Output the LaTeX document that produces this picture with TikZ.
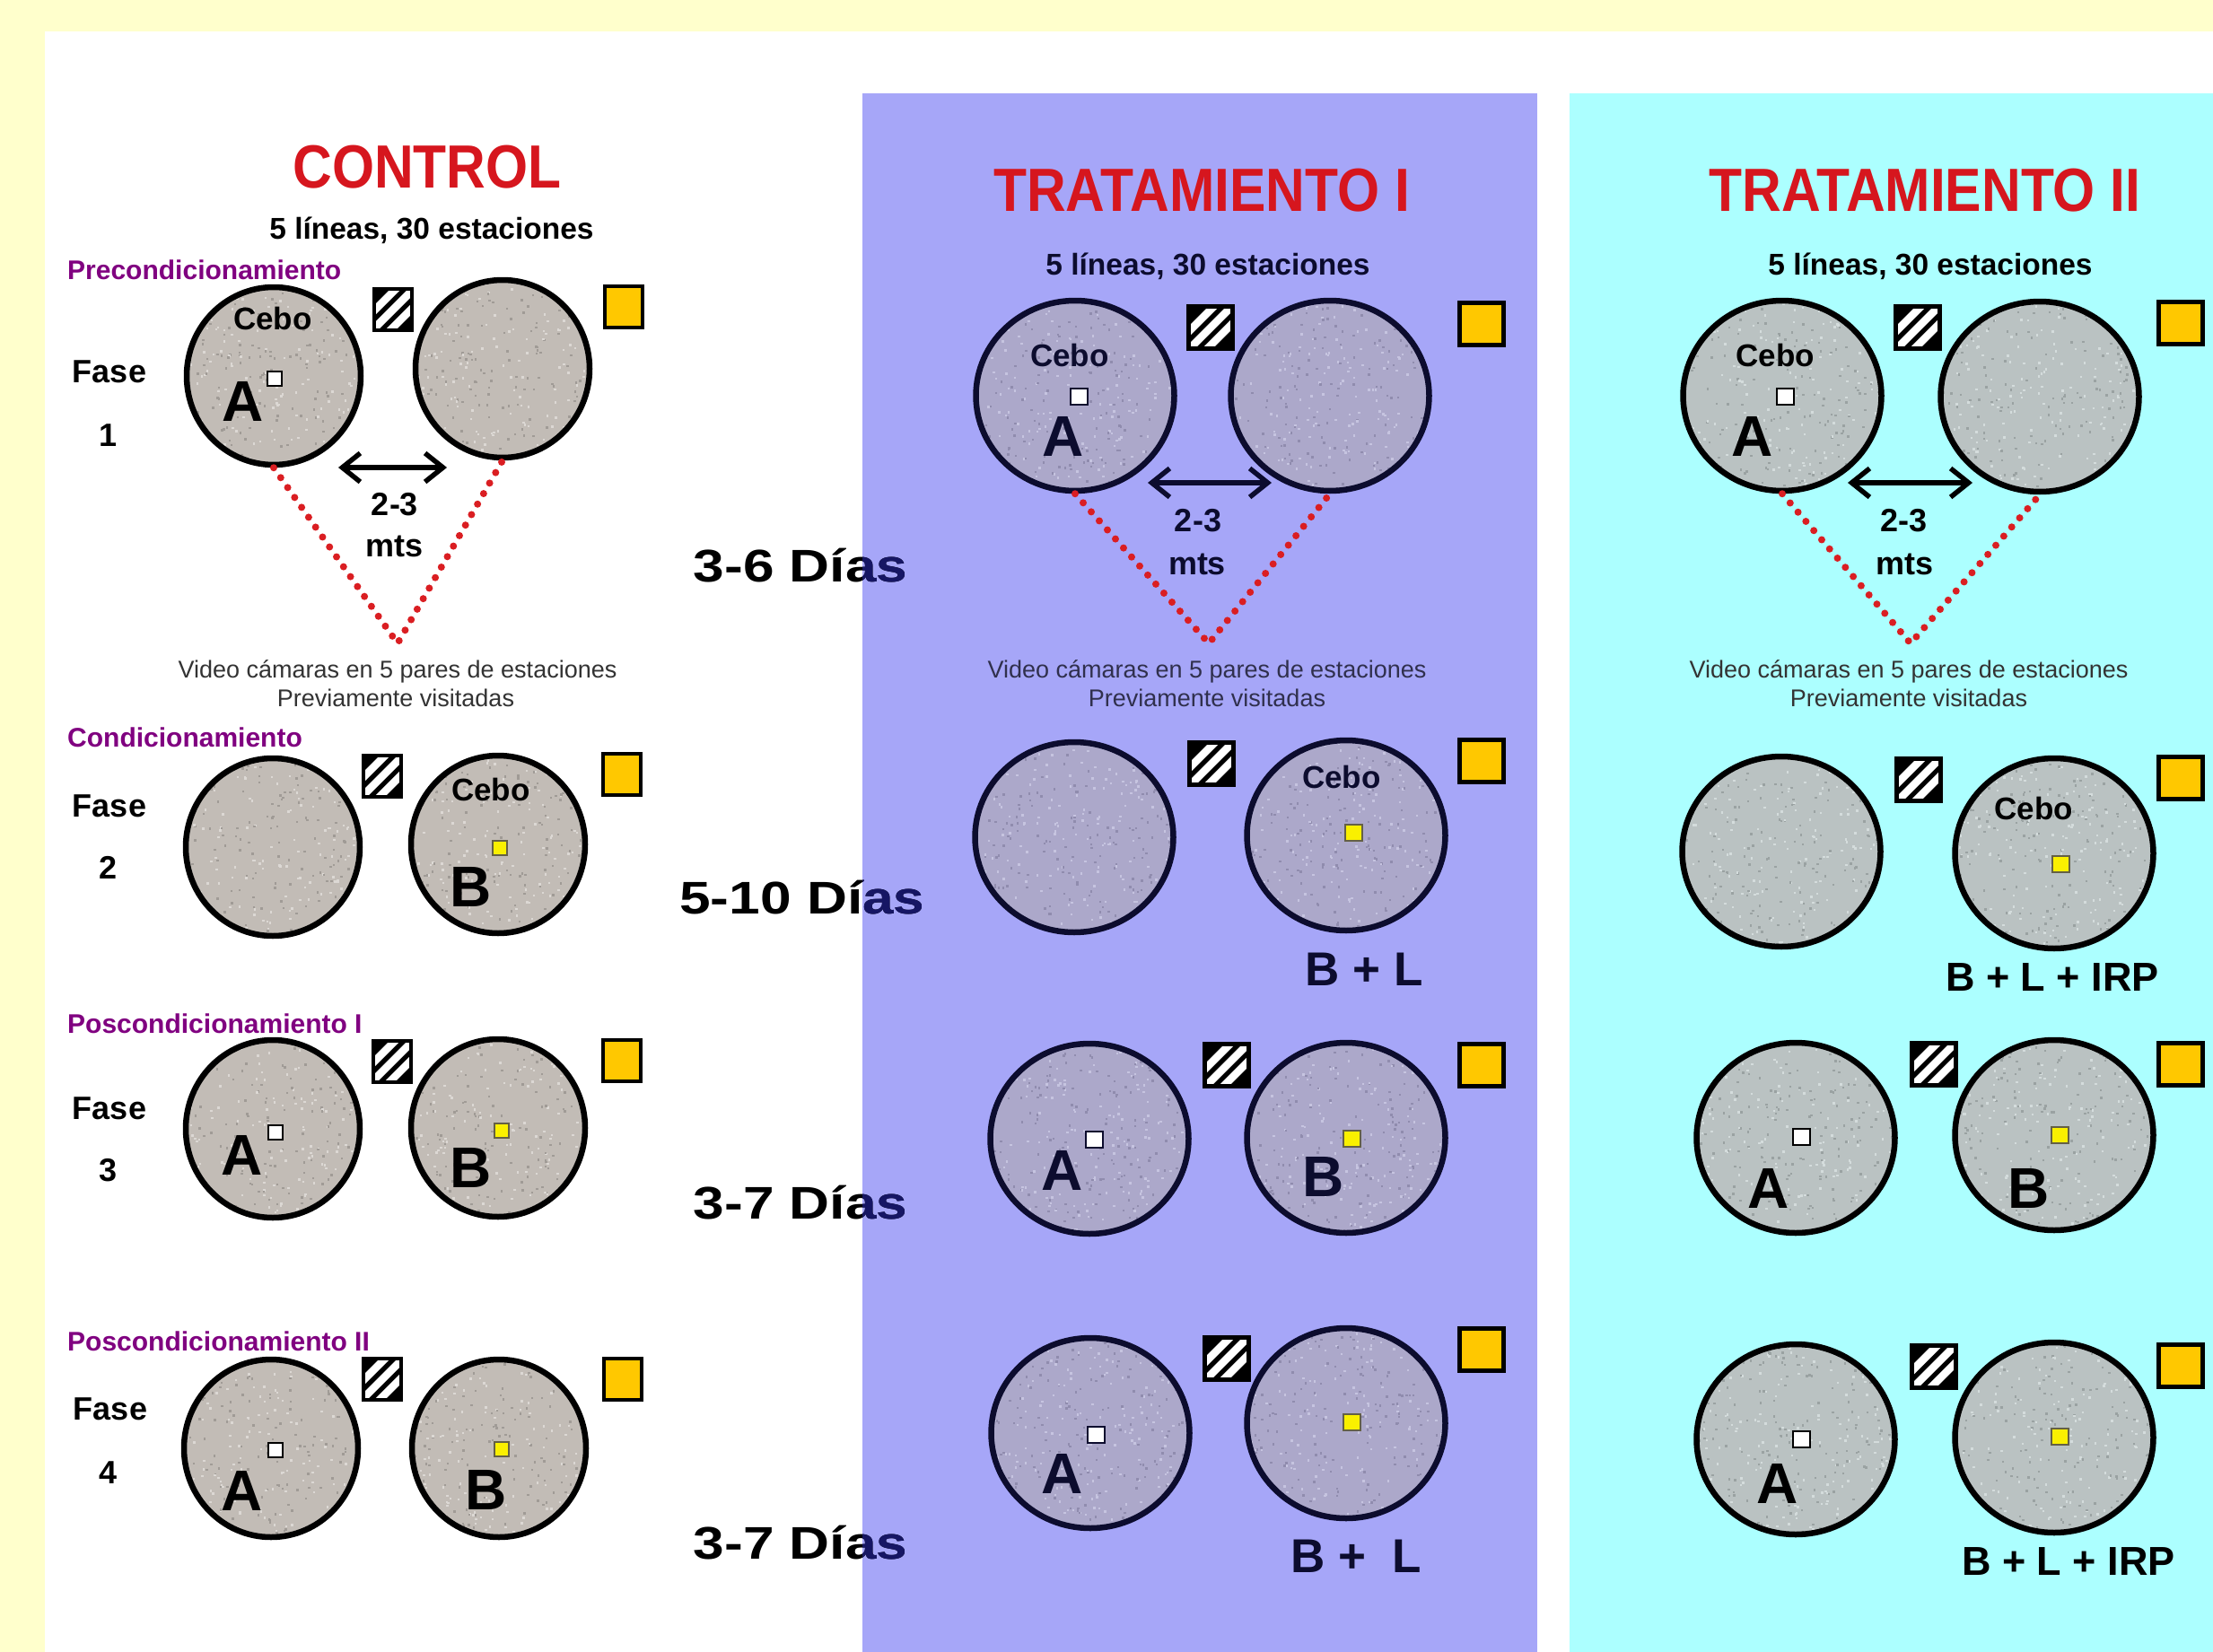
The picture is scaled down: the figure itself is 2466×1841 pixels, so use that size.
\documentclass[tikz,border=0pt]{standalone}
\usepackage{fontspec}
\setmainfont{Liberation Sans}
\usepackage{graphicx}
\usetikzlibrary{shapes.geometric,arrows.meta}

\definecolor{frameyellow}{RGB}{255,255,204}
\definecolor{panelblue}{RGB}{166,166,248}
\definecolor{panelcyan}{RGB}{172,255,255}
\definecolor{titlered}{RGB}{214,22,30}
\definecolor{phasepurple}{RGB}{128,0,128}
\definecolor{dotred}{RGB}{218,30,34}
\definecolor{baitgold}{RGB}{255,200,0}
\definecolor{baityellow}{RGB}{250,240,0}
\definecolor{navytext}{RGB}{22,22,100}
\definecolor{blueink}{RGB}{12,12,46}
\definecolor{stoneA}{RGB}{194,188,182}
\definecolor{stoneAd}{RGB}{160,155,150}
\definecolor{stoneAl}{RGB}{220,216,212}
\definecolor{stoneB}{RGB}{172,168,202}
\definecolor{stoneBd}{RGB}{144,140,174}
\definecolor{stoneBl}{RGB}{198,196,224}
\definecolor{stoneC}{RGB}{186,194,194}
\definecolor{stoneCd}{RGB}{154,162,162}
\definecolor{stoneCl}{RGB}{212,220,220}
\colorlet{ink}{black}
\colorlet{camgray}{black!80}

\begin{document}
\begin{tikzpicture}[x=1pt,y=-1pt,
  lbl/.style={inner sep=0pt, anchor=base, text=ink},
  titlelbl/.style={lbl, text=titlered, font=\fontsize{68}{68}\selectfont\bfseries},
  subtitle/.style={lbl, font=\fontsize{33.5}{33.5}\selectfont\bfseries},
  phaselbl/.style={lbl, anchor=base west, text=phasepurple, font=\fontsize{30}{30}\selectfont\bfseries},
  faselbl/.style={lbl, font=\fontsize{36}{36}\selectfont\bfseries},
  cebolbl/.style={lbl, font=\fontsize{35}{35}\selectfont\bfseries},
  letter/.style={lbl, font=\fontsize{64}{64}\selectfont\bfseries},
  distlbl/.style={lbl, font=\fontsize{36}{36}\selectfont\bfseries},
  camtext/.style={lbl, text=camgray, font=\fontsize{27}{27}\selectfont},
  diaslbl/.style={lbl, text=black, font=\fontsize{51}{51}\selectfont\bfseries},
  mixlbl/.style={lbl, font=\fontsize{53}{53}\selectfont\bfseries},
  mixlblb/.style={lbl, font=\fontsize{45}{45}\selectfont\bfseries},
  % speckled stone: light fill with small random grains, clipped to the ellipse
  stone/.style n args={3}{ellipse, draw=ink, line width=6.5pt, fill=#1, inner sep=0pt,
    path picture={
      \foreach \k in {1,...,190}{
        \fill[#2] ([shift={(rand*116,rand*116)}]path picture bounding box.center) rectangle ++(2.5,2.5);
        \fill[#3] ([shift={(rand*116,rand*116)}]path picture bounding box.center) rectangle ++(2.5,2.5);
      }}},
  ctlstone/.style={stone={stoneA}{stoneAd}{stoneAl}, minimum width=194pt, minimum height=198pt},
  bluestone/.style={stone={stoneB}{stoneBd}{stoneBl}, minimum width=221pt, minimum height=212pt},
  cyanstone/.style={stone={stoneC}{stoneCd}{stoneCl}, minimum width=221pt, minimum height=212pt},
  hatchbox/.style={rectangle, draw=black, line width=4.5pt, fill=black, inner sep=0pt,
    path picture={
      \foreach \o in {-14,0,14}{
        \draw[white, line width=8.5pt] ([shift={(\o*0.7071-40,\o*0.7071+40)}]path picture bounding box.center) -- ++(80,-80);
      }}},
  goldbox/.style={rectangle, draw=black, line width=4.5pt, fill=baitgold, inner sep=0pt},
  ctlsq/.style={minimum width=42pt, minimum height=46pt},
  trtsq/.style={minimum width=49pt, minimum height=47pt},
  whitebait/.style={rectangle, draw=ink, line width=2pt, fill=white, inner sep=0pt},
  yellowbait/.style={rectangle, draw=black!70!yellow, line width=2pt, fill=baityellow, inner sep=0pt},
  ctlbait/.style={minimum width=16pt, minimum height=16pt},
  trtbait/.style={minimum width=19pt, minimum height=18pt},
  dblarrow/.style={draw=ink, line width=5.5pt,
    {Straight Barb[length=20pt,width=32pt]}-{Straight Barb[length=20pt,width=32pt]}},
  camline/.style={draw=dotred, line width=8pt, line cap=round, dash pattern=on 0pt off 13.5pt},
]
\pgfmathsetseed{2718}
\useasboundingbox (0,0) rectangle (2466,1841);

% page frame and the two treatment panels
\fill[frameyellow] (0,0) rectangle (2466,1841);
\fill[white] (50,35) rectangle (2466,1841);
\coordinate (pI-nw) at (961,104);   \coordinate (pI-se) at (1713,1841);
\coordinate (pII-nw) at (1749,104); \coordinate (pII-se) at (2466,1841);
\fill[panelblue] (pI-nw) rectangle (pI-se);
\fill[panelcyan] (pII-nw) rectangle (pII-se);

% durations between the columns (the part over the blue panel turns navy)
\node[diaslbl] (d1) at (892,648)  {\scalebox{1.22}[1]{3-6 Días}};
\node[diaslbl] (d2) at (894,1018) {\scalebox{1.22}[1]{5-10 Días}};
\node[diaslbl] (d3) at (892,1358) {\scalebox{1.22}[1]{3-7 Días}};
\node[diaslbl] (d4) at (892,1737) {\scalebox{1.22}[1]{3-7 Días}};
\begin{scope}
  \clip (pI-nw) rectangle (pI-se);
  \node[diaslbl, text=navytext] (d1n) at (892,648)  {\scalebox{1.22}[1]{3-6 Días}};
  \node[diaslbl, text=navytext] (d2n) at (894,1018) {\scalebox{1.22}[1]{5-10 Días}};
  \node[diaslbl, text=navytext] (d3n) at (892,1358) {\scalebox{1.22}[1]{3-7 Días}};
  \node[diaslbl, text=navytext] (d4n) at (892,1737) {\scalebox{1.22}[1]{3-7 Días}};
\end{scope}

% ================= CONTROL =================
\node[titlelbl] (ctlT) at (476,209) {\scalebox{0.89}[1]{CONTROL}};
\node[subtitle] (ctlS) at (481,266) {5 líneas, 30 estaciones};

% phase 1
\node[phaselbl] (ph1) at (75,311) {Precondicionamiento};
\node[faselbl] (fase1) at (122,426) {Fase};
\node[faselbl] (num1) at (121,497) {1};
\node[ctlstone] (c1a) at (305,419) {};
\node[ctlstone] (c1b) at (560,411) {};
\node[hatchbox, ctlsq] (c1h) at (438,345) {};
\node[goldbox, ctlsq] (c1y) at (695,342) {};
\node[cebolbl] (c1cebo) at (304,367) {Cebo};
\node[whitebait, ctlbait] (c1w) at (306,422) {};
\node[letter] (c1A) at (271,469) {A};
\coordinate (c1l) at (377,521); \coordinate (c1r) at (498,521);
\draw[dblarrow] (c1l) -- (c1r);
\node[distlbl] (c1d1) at (440,574) {2-3};
\node[distlbl] (c1d2) at (440,620) {mts};
\coordinate (c1cam) at (443,717);
\draw[camline] (c1a.south) -- (c1cam) -- (c1b.south);
\node[camtext] (c1v1) at (443,755) {Video cámaras en 5 pares de estaciones};
\node[camtext] (c1v2) at (441,787) {Previamente visitadas};

% phase 2
\node[phaselbl] (ph2) at (75,832) {Condicionamiento};
\node[faselbl] (fase2) at (122,910) {Fase};
\node[faselbl] (num2) at (121,979) {2};
\node[ctlstone] (c2a) at (304,944) {};
\node[ctlstone] (c2b) at (555,941) {};
\node[hatchbox, ctlsq] (c2h) at (426,865) {};
\node[goldbox, ctlsq] (c2y) at (693,863) {};
\node[cebolbl] (c2cebo) at (547,892) {Cebo};
\node[yellowbait, ctlbait] (c2yb) at (557,945) {};
\node[letter] (c2B) at (525,1010) {B};

% phase 3
\node[phaselbl] (ph3) at (75,1151) {Poscondicionamiento I};
\node[faselbl] (fase3) at (122,1247) {Fase};
\node[faselbl] (num3) at (121,1316) {3};
\node[ctlstone] (c3a) at (304,1258) {};
\node[ctlstone] (c3b) at (555,1257) {};
\node[hatchbox, ctlsq] (c3h) at (437,1183) {};
\node[goldbox, ctlsq] (c3y) at (693,1182) {};
\node[whitebait, ctlbait] (c3w) at (307,1262) {};
\node[letter] (c3A) at (270,1309) {A};
\node[yellowbait, ctlbait] (c3yb) at (559,1260) {};
\node[letter] (c3B) at (525,1323) {B};

% phase 4
\node[phaselbl] (ph4) at (75,1505) {Poscondicionamiento II};
\node[faselbl] (fase4) at (123,1582) {Fase};
\node[faselbl] (num4) at (121,1653) {4};
\node[ctlstone] (c4a) at (302,1614) {};
\node[ctlstone] (c4b) at (556,1614) {};
\node[hatchbox, ctlsq] (c4h) at (426,1537) {};
\node[goldbox, ctlsq] (c4y) at (694,1537) {};
\node[whitebait, ctlbait] (c4w) at (307,1616) {};
\node[letter] (c4A) at (270,1683) {A};
\node[yellowbait, ctlbait] (c4yb) at (559,1615) {};
\node[letter] (c4B) at (542,1682) {B};

% ================= TRATAMIENTO I =================
\begin{scope}
\colorlet{ink}{blueink}
\colorlet{camgray}{blueink!85!white}
\node[titlelbl] (tT) at (1339,235) {\scalebox{0.89}[1]{TRATAMIENTO I}};
\node[subtitle] (tS) at (1346,306) {5 líneas, 30 estaciones};

\node[bluestone] (t1a) at (1198,441) {};
\node[bluestone] (t1b) at (1482,441) {};
\node[hatchbox, trtsq] (t1h) at (1349,365) {};
\node[goldbox, trtsq] (t1y) at (1651,361) {};
\node[cebolbl] (t1cebo) at (1192,408) {Cebo};
\node[whitebait, trtbait] (t1w) at (1202,442) {};
\node[letter] (t1A) at (1185,508) {A};
\coordinate (t1l) at (1279,538); \coordinate (t1r) at (1417,538);
\draw[dblarrow] (t1l) -- (t1r);
\node[distlbl] (t1d1) at (1335,592) {2-3};
\node[distlbl] (t1d2) at (1334,640) {mts};
\coordinate (t1cam) at (1347,717);
\draw[camline] (t1a.south) -- (t1cam) -- (t1b.south);
\node[camtext] (t1v1) at (1345,755) {Video cámaras en 5 pares de estaciones};
\node[camtext] (t1v2) at (1345,787) {Previamente visitadas};

\node[bluestone] (t2a) at (1197,933) {};
\node[bluestone] (t2b) at (1500,931) {};
\node[hatchbox, trtsq] (t2h) at (1350,851) {};
\node[goldbox, trtsq] (t2y) at (1651,848) {};
\node[cebolbl] (t2cebo) at (1495,878) {Cebo};
\node[yellowbait, trtbait] (t2yb) at (1508,928) {};
\node[mixlbl] (t2lab) at (1520,1098) {B + L};

\node[bluestone] (t3a) at (1214,1269) {};
\node[bluestone] (t3b) at (1500,1268) {};
\node[hatchbox, trtsq] (t3h) at (1367,1187) {};
\node[goldbox, trtsq] (t3y) at (1651,1187) {};
\node[whitebait, trtbait] (t3w) at (1219,1270) {};
\node[letter] (t3A) at (1184,1326) {A};
\node[yellowbait, trtbait] (t3yb) at (1506,1269) {};
\node[letter] (t3B) at (1475,1333) {B};

\node[bluestone] (t4a) at (1215,1597) {};
\node[bluestone] (t4b) at (1500,1586) {};
\node[hatchbox, trtsq] (t4h) at (1367,1514) {};
\node[goldbox, trtsq] (t4y) at (1651,1504) {};
\node[whitebait, trtbait] (t4w) at (1221,1599) {};
\node[letter] (t4A) at (1184,1664) {A};
\node[yellowbait, trtbait] (t4yb) at (1506,1585) {};
\node[mixlbl] (t4lab) at (1511,1752) {B +~ L};
\end{scope}

% ================= TRATAMIENTO II =================
\node[titlelbl] (uT) at (2145,235) {\scalebox{0.89}[1]{TRATAMIENTO II}};
\node[subtitle] (uS) at (2151,306) {5 líneas, 30 estaciones};

\node[cyanstone] (u1a) at (1986,441) {};
\node[cyanstone] (u1b) at (2273,442) {};
\node[hatchbox, trtsq] (u1h) at (2137,365) {};
\node[goldbox, trtsq] (u1y) at (2430,360) {};
\node[cebolbl] (u1cebo) at (1978,408) {Cebo};
\node[whitebait, trtbait] (u1w) at (1989,442) {};
\node[letter] (u1A) at (1953,508) {A};
\coordinate (u1l) at (2059,538); \coordinate (u1r) at (2198,538);
\draw[dblarrow] (u1l) -- (u1r);
\node[distlbl] (u1d1) at (2121,592) {2-3};
\node[distlbl] (u1d2) at (2122,640) {mts};
\coordinate (u1cam) at (2129,717);
\draw[camline] (u1a.south) -- (u1cam) -- (u1b.south);
\node[camtext] (u1v1) at (2127,755) {Video cámaras en 5 pares de estaciones};
\node[camtext] (u1v2) at (2127,787) {Previamente visitadas};

\node[cyanstone] (u2a) at (1985,949) {};
\node[cyanstone] (u2b) at (2289,951) {};
\node[hatchbox, trtsq] (u2h) at (2138,869) {};
\node[goldbox, trtsq] (u2y) at (2430,867) {};
\node[cebolbl] (u2cebo) at (2266,913) {Cebo};
\node[yellowbait, trtbait] (u2yb) at (2296,963) {};
\node[mixlblb] (u2lab) at (2287,1104) {B + L + IRP};

\node[cyanstone] (u3a) at (2001,1268) {};
\node[cyanstone] (u3b) at (2289,1265) {};
\node[hatchbox, trtsq] (u3h) at (2155,1186) {};
\node[goldbox, trtsq] (u3y) at (2430,1186) {};
\node[whitebait, trtbait] (u3w) at (2007,1267) {};
\node[letter] (u3A) at (1971,1346) {A};
\node[yellowbait, trtbait] (u3yb) at (2295,1265) {};
\node[letter] (u3B) at (2261,1346) {B};

\node[cyanstone] (u4a) at (2001,1604) {};
\node[cyanstone] (u4b) at (2289,1602) {};
\node[hatchbox, trtsq] (u4h) at (2155,1523) {};
\node[goldbox, trtsq] (u4y) at (2430,1522) {};
\node[whitebait, trtbait] (u4w) at (2007,1604) {};
\node[letter] (u4A) at (1981,1675) {A};
\node[yellowbait, trtbait] (u4yb) at (2295,1601) {};
\node[mixlblb] (u4lab) at (2305,1755) {B + L + IRP};
\end{tikzpicture}
\end{document}
